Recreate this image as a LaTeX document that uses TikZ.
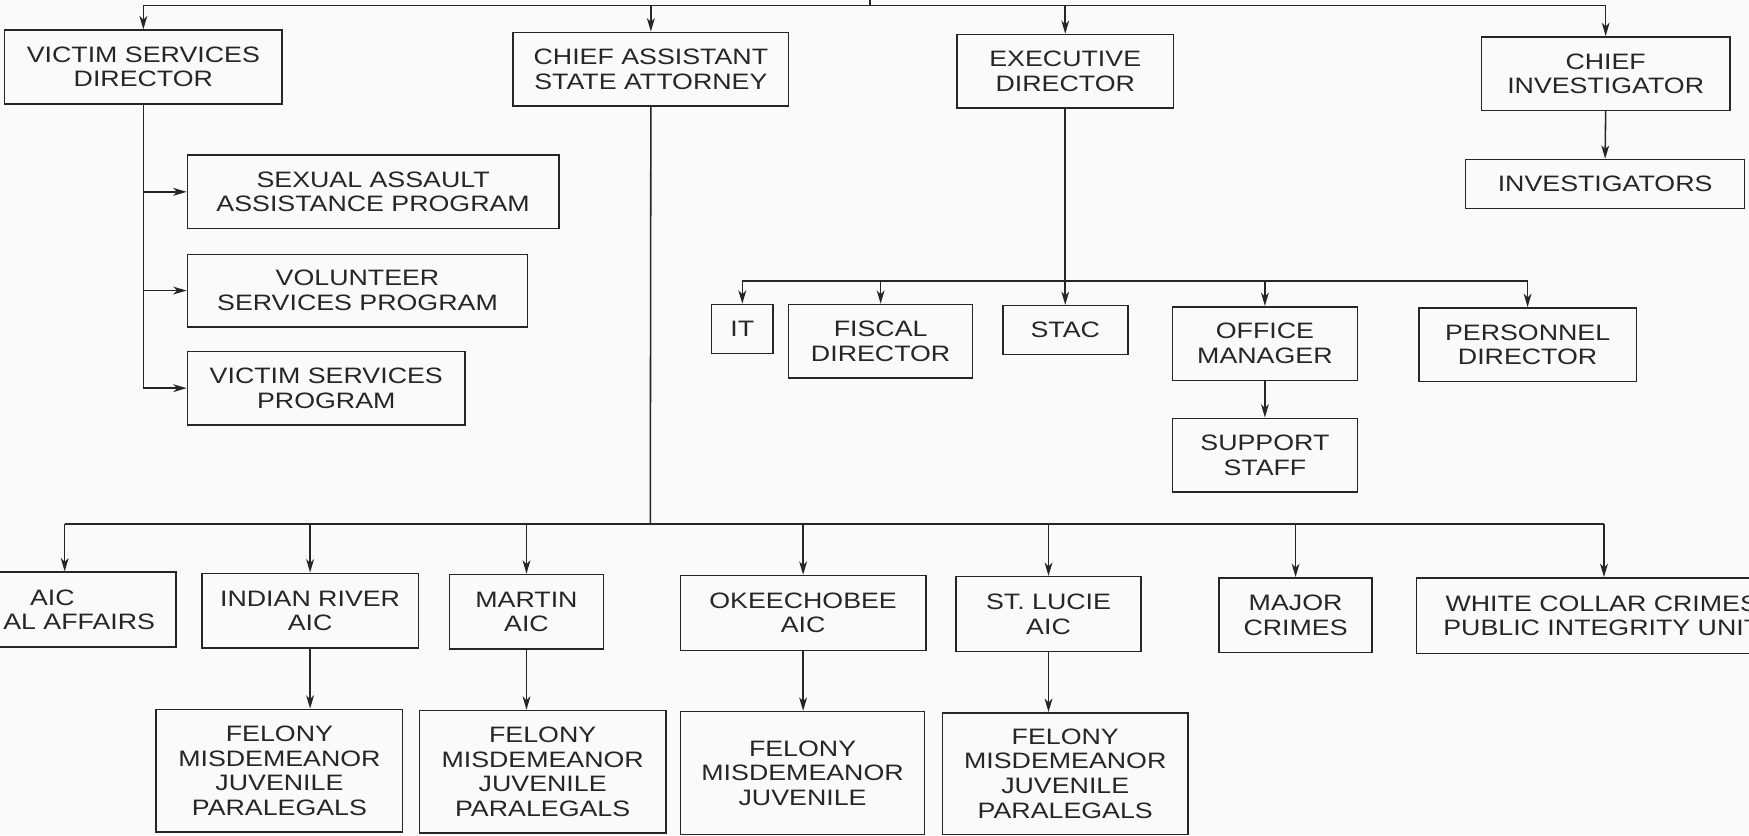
\documentclass[tikz,border=0pt]{standalone}
\usepackage{fontspec}
\setmainfont{Liberation Sans}[FakeStretch=1.2]
\usetikzlibrary{arrows.meta}
\tikzset{
  unit/.style={draw, line width=1.4pt, align=center, inner sep=0pt,
    font=\fontsize{20}{22}\selectfont},
  sz/.style 2 args={minimum width=#1pt, minimum height=#2pt},
  arr/.style={-{Stealth[length=12pt,width=7pt,inset=3.5pt]}},
}
\begin{document}
\begin{tikzpicture}[x=1pt, y=-1pt, line width=1.4pt, color=black!85]
  \useasboundingbox (0,0) rectangle (1568,749);
  \fill[black!2] (0,0) rectangle (1568,749);
  \clip (0,0) rectangle (1568,749);

  % top row
  \node[unit, sz={249}{66}] (vsd) at (128.5,60) {VICTIM SERVICES\\DIRECTOR};
  \node[unit, sz={247}{66}] (casa) at (583.5,62) {CHIEF ASSISTANT\\STATE ATTORNEY};
  \node[unit, sz={194}{66}] (exd) at (955,64) {EXECUTIVE\\DIRECTOR};
  \node[unit, sz={223}{66}] (chinv) at (1439.5,66) {CHIEF\\INVESTIGATOR};
  \node[unit, sz={250}{44}] (inv) at (1439,165) {INVESTIGATORS};

  \coordinate (top) at (780,-5); \coordinate (topbus) at (780,5);
  \draw (top) -- (topbus);
  \draw (vsd.north |- topbus) -- (chinv.north |- topbus);
  \foreach \p in {vsd,casa,exd,chinv} \draw[arr] (\p.north |- topbus) -- (\p.north);
  \draw[arr] (chinv.south) -- (inv.north);

  % victim services
  \node[unit, sz={333}{66}] (sexual) at (334.5,172) {SEXUAL ASSAULT\\ASSISTANCE PROGRAM};
  \node[unit, sz={305}{65}] (volunteer) at (320.5,260.5) {VOLUNTEER\\SERVICES PROGRAM};
  \node[unit, sz={249}{66}] (vsprog) at (292.5,348) {VICTIM SERVICES\\PROGRAM};
  \draw (vsd.south) -- (vsd.south |- vsprog.west);
  \foreach \p in {sexual,volunteer,vsprog} \draw[arr] (vsd.south |- \p.west) -- (\p.west);

  % executive director
  \node[unit, sz={55}{44}] (it) at (665.5,295) {IT};
  \node[unit, sz={165}{66}] (fiscal) at (789.5,306) {FISCAL\\DIRECTOR};
  \node[unit, sz={112}{44}] (stac) at (955,296) {STAC};
  \node[unit, sz={166}{66}] (offman) at (1134,308) {OFFICE\\MANAGER};
  \node[unit, sz={195}{66}] (pers) at (1369.5,309) {PERSONNEL\\DIRECTOR};
  \node[unit, sz={166}{66}] (support) at (1134,408) {SUPPORT\\STAFF};
  \coordinate (edbus) at (955,252);
  \draw[arr] (exd.south) -- (stac.north);
  \draw (it.north |- edbus) -- (pers.north |- edbus);
  \foreach \p in {it,fiscal,offman,pers} \draw[arr] (\p.north |- edbus) -- (\p.north);
  \draw[arr] (offman.south) -- (support.north);

  % chief assistant
  \node[unit, sz={222}{67}] (legal) at (47,546.5) {AIC\\\phantom{LEG}AL AFFAIRS};
  \node[unit, sz={194}{67}] (iraic) at (278,547.5) {INDIAN RIVER\\AIC};
  \node[unit, sz={138}{67}] (martin) at (472,548.5) {MARTIN\\AIC};
  \node[unit, sz={220}{67}] (okee) at (720,549.5) {OKEECHOBEE\\AIC};
  \node[unit, sz={166}{67}] (stlucie) at (940,550.5) {ST. LUCIE\\AIC};
  \node[unit, sz={137}{67}] (major) at (1161.5,551.5) {MAJOR\\CRIMES};
  \node[unit, sz={332}{68}] (white) at (1436,552) {WHITE COLLAR CRIMES\\PUBLIC INTEGRITY UNIT};
  \coordinate (casabus) at (583,470);
  \draw (casa.south) -- (casabus);
  \draw ([xshift=11pt]legal.north |- casabus) -- ([xshift=2pt]white.north |- casabus);
  \draw[arr] ([xshift=11pt]legal.north |- casabus) -- ([xshift=11pt]legal.north);
  \draw[arr] ([xshift=2pt]white.north |- casabus) -- ([xshift=2pt]white.north);
  \foreach \p in {iraic,martin,okee,stlucie,major} \draw[arr] (\p.north |- casabus) -- (\p.north);

  % bottom row
  \node[unit, sz={221}{110}] (irfel) at (250.5,691) {FELONY\\MISDEMEANOR\\JUVENILE\\PARALEGALS};
  \node[unit, sz={221}{110}] (marfel) at (486.5,692) {FELONY\\MISDEMEANOR\\JUVENILE\\PARALEGALS};
  \node[unit, sz={219}{110}] (okfel) at (719.5,693) {FELONY\\MISDEMEANOR\\JUVENILE};
  \node[unit, sz={220}{109}] (stlfel) at (955,693.5) {FELONY\\MISDEMEANOR\\JUVENILE\\PARALEGALS};
  \draw[arr] (iraic.south) -- (iraic.south |- irfel.north);
  \draw[arr] (martin.south) -- (martin.south |- marfel.north);
  \draw[arr] (okee.south) -- (okee.south |- okfel.north);
  \draw[arr] (stlucie.south) -- (stlucie.south |- stlfel.north);
\end{tikzpicture}
\end{document}
